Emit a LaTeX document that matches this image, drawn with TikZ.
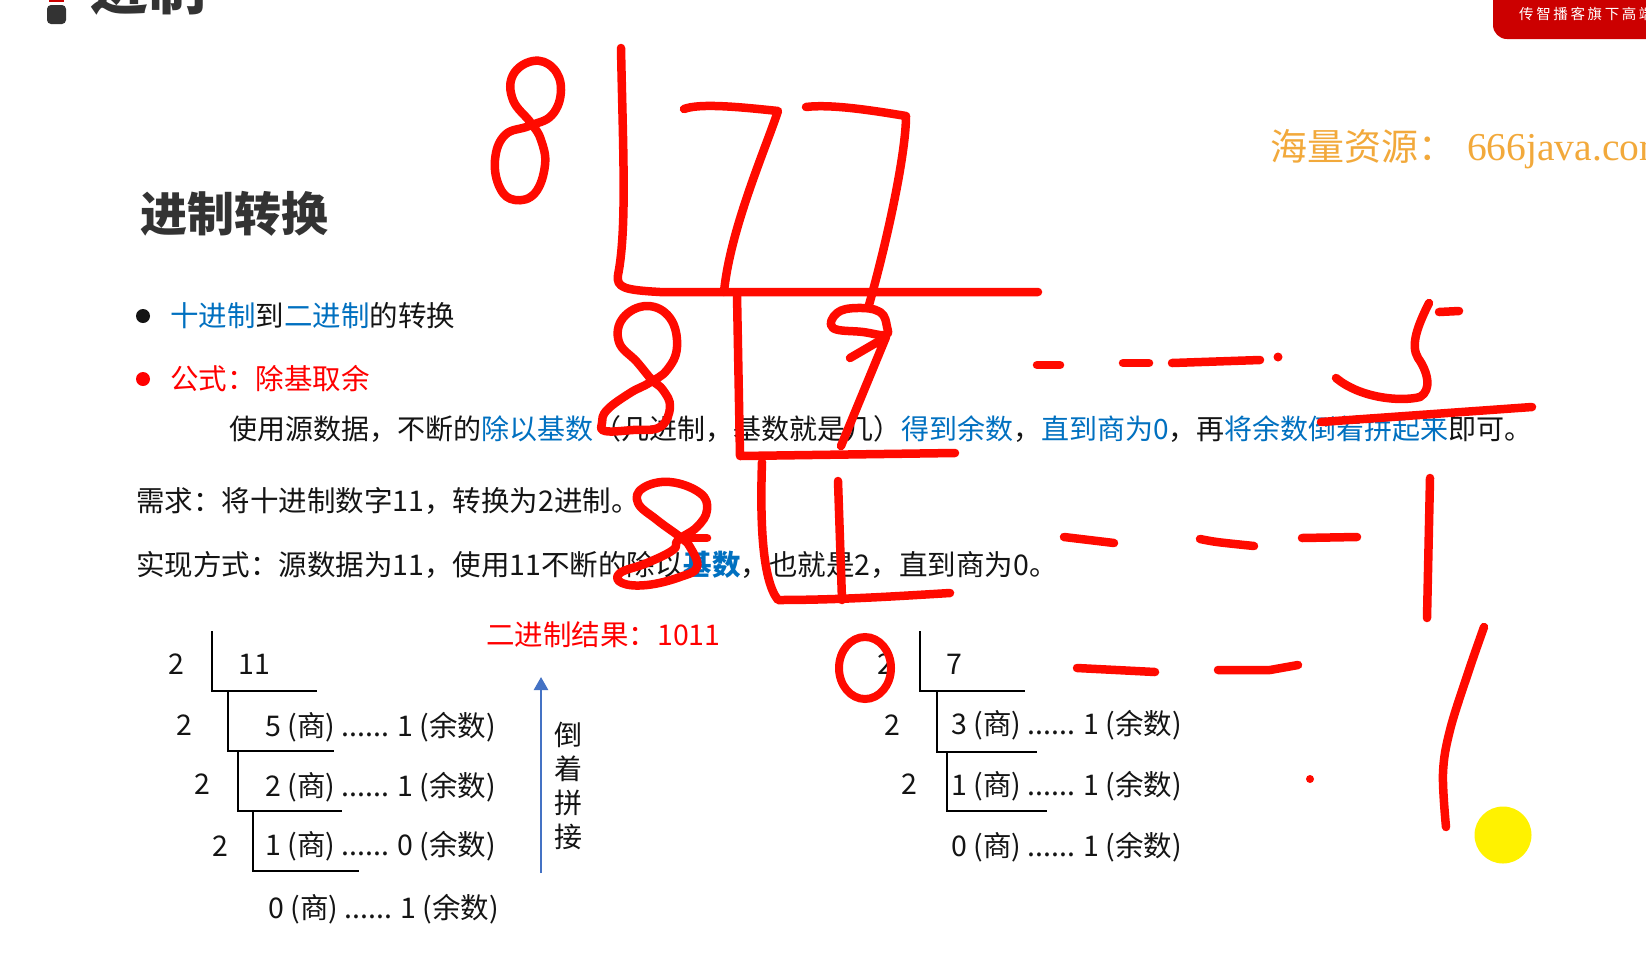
\documentclass[tikz,border=0pt]{standalone}
\usepackage{fontspec}
\usetikzlibrary{arrows.meta}
\setmainfont{Noto Sans CJK SC}
\newfontfamily\serifen{Liberation Serif}
\newfontfamily\tabfont[LetterSpace=18]{Noto Sans CJK SC}
\definecolor{txt}{HTML}{141414}
\definecolor{titlec}{HTML}{333333}
\definecolor{blu}{HTML}{0070C0}
\definecolor{redtxt}{HTML}{FF0000}
\definecolor{ink}{HTML}{FF0A00}
\definecolor{tabred}{HTML}{CC0000}
\definecolor{gold}{HTML}{F2A93B}
\definecolor{arrowblue}{HTML}{4472C4}
\definecolor{hl}{HTML}{FFF200}
\tikzset{
  body/.style={anchor=west, inner sep=0pt, font=\fontsize{28.5}{30}\selectfont, text=txt},
  num/.style={anchor=center, inner sep=0pt, font=\fontsize{28.5}{30}\selectfont, text=txt},
  rule/.style={line width=2pt, black},
  pen/.style={ink, line width=8.5pt, line cap=round, line join=round},
}
\begin{document}
\begin{tikzpicture}[x=1pt,y=-1pt]
\useasboundingbox (0,0) rectangle (1646,970);
\clip (0,0) rectangle (1646,970);
\fill[white] (0,0) rectangle (1646,970);

% header remnants
\fill[titlec, rounded corners=4pt] (47,5) rectangle (66,24);
\fill[tabred] (49,-5) rectangle (64,2);
\node[anchor=base west, inner sep=0pt, font=\fontsize{58}{60}\selectfont\bfseries, text=titlec] (hdr) at (90,9) {进制};
\fill[tabred, rounded corners=14pt] (1493,-20) -- (1493,39) -- (1680,39) -- (1680,-20) -- cycle;
\node[anchor=west, inner sep=0pt, font=\tabfont\fontsize{14.5}{16}\selectfont, text=white] (tab) at (1519,14) {传智播客旗下高端};
\node[anchor=base west, inner sep=0pt, text=gold, font=\fontsize{37}{40}\selectfont] (wm) at (1270,160) {海量资源：\hspace{12pt}{\serifen\fontsize{39.5}{40}\selectfont 666java.com}};

% title and text
\node[anchor=west, inner sep=0pt, font=\fontsize{47}{50}\selectfont\bfseries, text=titlec] (title) at (140,214) {进制转换};
\fill[txt] (143,316) circle (7pt);
\node[body] (b1) at (170,316) {\textcolor{blu}{十进制}到\textcolor{blu}{二进制}的转换};
\fill[redtxt] (143,379) circle (7pt);
\node[body, text=redtxt] (b2) at (170,379) {公式：除基取余};
\node[body, font=\fontsize{28}{30}\selectfont] (l3) at (229,429) {使用源数据，不断的\textcolor{blu}{除以基数}（几进制，基数就是几）\textcolor{blu}{得到余数}，\textcolor{blu}{直到商为0}，再\textcolor{blu}{将余数倒着拼起来}即可。};
\node[body] (l4) at (136,501) {需求：将十进制数字11，转换为2进制。};
\node[body] (l5) at (136,565) {实现方式：源数据为11，使用11不断的除以\textcolor{blu}{\bfseries 基数}，也就是2，直到商为0。};

% left division
\node[num] (d1) at (176,664) {2};
\node[num] (q1) at (254,664) {11};
\draw[rule] (212,631) |- (317,691);
\node[num] (d2) at (184,725) {2};
\node[body] (r1) at (265,727) {5 (商) ...... 1 (余数)};
\draw[rule] (228,691) |- (334,751);
\node[num] (d3) at (202,784) {2};
\node[body] (r2) at (265,787) {2 (商) ...... 1 (余数)};
\draw[rule] (238,751) |- (342,811);
\node[num] (d4) at (220,846) {2};
\node[body] (r3) at (265,846) {1 (商) ...... 0 (余数)};
\draw[rule] (253,811) |- (359,871);
\node[body] (r4) at (268,909) {0 (商) ...... 1 (余数)};

\coordinate (ab) at (541,873);
\coordinate (at) at (541,677);
\draw[arrowblue, line width=2.5pt, -{Triangle[width=14pt,length=13pt]}] (ab) -- (at);
\node[body, text=redtxt] (res) at (486,635) {二进制结果：1011};
\node[inner sep=0pt, font=\fontsize{28}{34}\selectfont, text=txt, align=center] (rev) at (568,786) {倒\\着\\拼\\接};

% right division
\node[num] (e1) at (885,664) {2};
\node[num] (e1q) at (954,664) {7};
\draw[rule] (920,631) |- (1025,691);
\node[num] (e2) at (892,725) {2};
\node[body] (s1) at (951,725) {3 (商) ...... 1 (余数)};
\draw[rule] (937,691) |- (1037,752);
\node[num] (e3) at (909,784) {2};
\node[body] (s2) at (951,786) {1 (商) ...... 1 (余数)};
\draw[rule] (947,752) |- (1047,811);
\node[body] (s3) at (951,847) {0 (商) ...... 1 (余数)};

% handwriting
\draw[pen] plot[smooth cycle, tension=0.7] coordinates {(531,123) (513,100) (513,75) (533,61) (553,68) (561,90) (552,115) (529,126) (505,135) (495,160) (500,188) (515,200) (535,193) (545,165) (541,140)};
\draw[pen] (621,48) .. controls (623,150) and (627,230) .. (618,275) .. controls (616,288) and (625,290) .. (660,292) -- (1038,292);
\draw[pen] (684,109) .. controls (700,103) and (740,107) .. (778,111) .. controls (765,150) and (730,230) .. (724,292);
\draw[pen] (806,107) .. controls (830,104) and (870,110) .. (906,116) .. controls (906,150) and (890,230) .. (869,305);
\draw[pen] (737,295) -- (740,456) -- (955,453);
\draw[pen] plot[smooth cycle, tension=0.7] coordinates {(652,380) (637,362) (619,342) (623,318) (647,306) (670,318) (677,347) (667,370) (649,383) (630,393) (607,410) (602,423) (605,431) (633,430) (660,427) (670,407) (663,390)};
\draw[pen] plot[smooth cycle, tension=0.7] coordinates {(837,313) (857,308) (880,312) (887,327) (885,335) (863,332) (833,328)};
\draw[pen] (850,358) -- (886,337) -- (841,446);
\draw[pen] (762,462) .. controls (760,520) and (762,580) .. (778,600) .. controls (840,600) and (900,596) .. (950,593);
\draw[pen] (838,481) -- (842,600);
\draw[pen] plot[smooth cycle, tension=0.7] coordinates {(680,537) (657,520) (638,503) (643,488) (670,482) (700,493) (707,510) (697,527) (678,540) (673,550) (647,563) (620,573) (622,583) (647,585) (680,577) (697,567) (690,547)};
\draw[pen] (687,538) -- (707,538);
\draw[pen] (1037,365) -- (1060,365);
\draw[pen] (1123,363) -- (1149,363);
\draw[pen] (1172,363) -- (1260,360);
\fill[ink] (1278,357) circle (4.5pt);
\draw[pen] (1429,303) .. controls (1418,325) and (1410,345) .. (1418,358) .. controls (1428,372) and (1432,390) .. (1420,397) .. controls (1400,402) and (1360,398) .. (1336,378);
\draw[pen] (1439,312) -- (1459,311);
\draw[pen] (1321,422) -- (1532,407);
\draw[pen] (1064,537) -- (1114,543);
\draw[pen] (1200,539) .. controls (1215,542) .. (1254,546);
\draw[pen] (1302,538) -- (1357,537);
\draw[pen] (1430,478) -- (1427,618);
\draw[pen] (1077,668) -- (1155,672);
\draw[pen] (1218,670) -- (1270,670) -- (1298,665);
\draw[pen] plot[smooth, tension=0.6] coordinates {(1484,627) (1468,673) (1450,730) (1443,773) (1446,827)};
\fill[ink] (1310,779) circle (4pt);
\draw[ink, line width=8pt] (865,668) ellipse [x radius=26pt, y radius=31pt];
\fill[hl] (1503,835) circle (28.5pt);
\end{tikzpicture}
\end{document}
